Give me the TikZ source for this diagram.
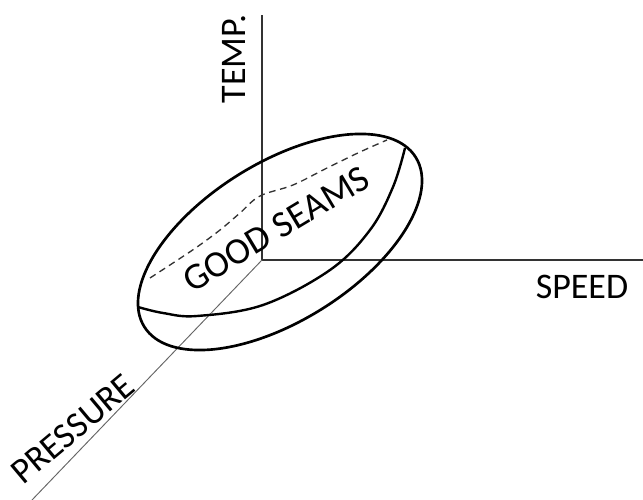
\documentclass[tikz,border=0pt]{standalone}
\usepackage{fontspec}
\setmainfont{Carlito}
\usepackage{tikz}
\usetikzlibrary{calc}
\usepackage{xcolor}

\tikzset{
  axis/.style={line width=1.1pt, black!80},
  depthaxis/.style={line width=0.7pt, black!60},
  shell/.style={line width=2pt, black},
  hidden/.style={line width=1pt, black!80, dash pattern=on 5pt off 3.5pt},
  label/.style={font=\fontsize{27}{32}\selectfont, inner sep=0pt}
}

\begin{document}
\begin{tikzpicture}[x=0.75pt, y=0.75pt] % 1 unit = 1 pixel of the picture
        \useasboundingbox (0,0) rectangle (643,500);

        % Goc toa do va dau mut cac truc
        \coordinate (O) at (262,240);
        \coordinate (top) at (262,485);
        \coordinate (right) at (643,240);
        \coordinate (far) at (32,0);

        % Ve ba truc
        \draw[axis] (O) -- (top);
        \draw[axis] (O) -- (right);
        \draw[depthaxis] (O) -- (far);

        % Vung "qua bong" bao quanh
        \draw[shell] (280,258) ellipse [x radius=160, y radius=79, rotate=32];

        % Duong may phia truoc va phia sau (net dut)
        \draw[shell, line width=1.8pt] plot[smooth, tension=0.6] coordinates {(138,193) (163,187) (197,184) (263,195) (330,230) (370,270) (393,313) (405,352)};
        \draw[hidden] plot[smooth, tension=0.6] coordinates {(150,222) (173,237) (197,253) (220,270) (240,287) (260,304) (293,315) (327,332) (360,348) (387,360)};

        % Cac nhan
        \node[label, rotate=90] (temp) at (234,441) {TEMP.};
        \node[label] (speed) at (582,213) {SPEED};
        \node[label, rotate=40] (pressure) at (73,71) {PRESSURE};
        \node[label, font=\fontsize{28}{33}\selectfont, rotate=31] (seams) at (276,271) {GOOD SEAMS};
    \end{tikzpicture}
\end{document}
